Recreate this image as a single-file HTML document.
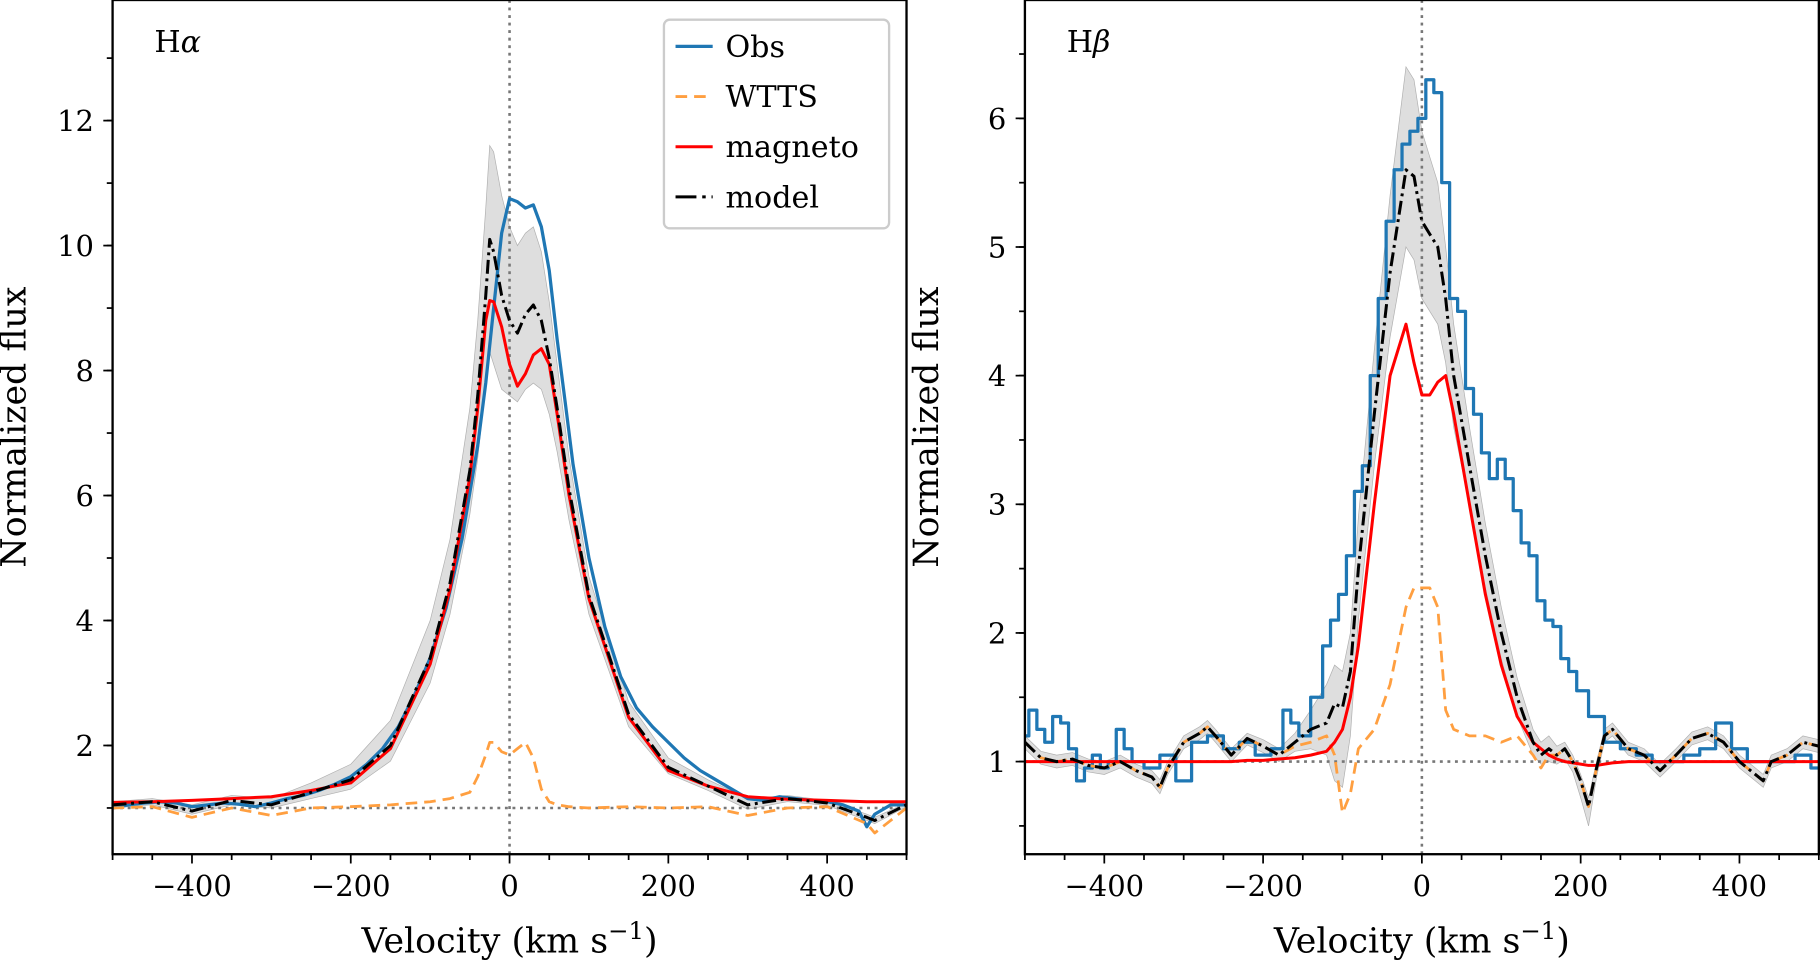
<!DOCTYPE html>
<html><head><meta charset="utf-8"><style>
html,body{margin:0;padding:0;background:#fff;}
svg{display:block;}
text{font-family:"DejaVu Serif","Liberation Serif",serif;fill:#000;}
</style></head><body>
<svg id="chart" width="1820" height="962" viewBox="0 0 1568 830" preserveAspectRatio="none" xmlns="http://www.w3.org/2000/svg"></svg>
<script>
// ---------- Hα data ----------
const haObsV = [-500,-480,-460,-440,-420,-400,-380,-360,-340,-320,-300,-280,-260,-240,-220,-200,-180,-160,-140,-120,-100,-80,-60,-40,-30,-20,-10,0,10,20,30,40,50,60,70,80,100,120,140,160,180,200,220,240,260,280,300,320,340,360,380,400,420,440,450,460,480,500];
const haObs = [1.0,1.05,1.08,1.1,1.08,1.02,1.05,1.08,1.06,1.02,1.08,1.15,1.2,1.28,1.38,1.5,1.7,1.95,2.3,2.8,3.4,4.2,5.3,6.8,7.8,9.0,10.2,10.75,10.7,10.6,10.65,10.3,9.6,8.5,7.5,6.5,5.0,3.9,3.1,2.6,2.3,2.05,1.8,1.6,1.45,1.3,1.15,1.12,1.18,1.15,1.12,1.1,1.05,0.95,0.7,0.9,1.05,1.05];
const haV = [-500,-450,-400,-350,-300,-250,-200,-150,-100,-75,-50,-40,-30,-25,-20,-10,0,10,20,30,40,50,60,75,100,150,200,250,300,350,400,450,460,500];
const haModel = [1.05,1.1,0.95,1.12,1.05,1.25,1.45,2.0,3.4,4.6,6.4,7.6,9.2,10.1,9.9,9.2,8.8,8.6,8.9,9.05,8.8,8.2,7.4,6.1,4.4,2.5,1.65,1.35,1.05,1.15,1.08,0.85,0.8,1.05];
const haMagneto = [1.09,1.1,1.12,1.15,1.18,1.28,1.4,1.95,3.3,4.5,6.3,7.4,8.8,9.12,9.1,8.7,8.1,7.75,7.95,8.25,8.35,8.1,7.3,6.0,4.35,2.45,1.6,1.35,1.18,1.14,1.12,1.1,1.1,1.1];
const haWtts = [1.0,1.02,0.85,1.0,0.88,1.0,1.02,1.05,1.1,1.15,1.25,1.5,1.85,2.05,2.05,1.9,1.85,1.95,2.05,1.8,1.3,1.1,1.05,1.02,1.0,1.02,1.0,1.02,0.88,1.0,1.02,0.75,0.6,1.0];
const haBandHi = [1.1,1.15,1.05,1.2,1.15,1.4,1.7,2.4,4.0,5.3,7.4,8.8,10.6,11.6,11.5,10.8,10.3,10.0,10.2,10.3,9.9,9.1,8.1,6.6,4.7,2.7,1.8,1.45,1.15,1.2,1.12,0.9,0.85,1.08];
const haBandLo = [1.0,1.05,0.9,1.05,1.0,1.15,1.3,1.75,3.0,4.1,5.7,6.6,7.8,8.3,8.1,7.7,7.6,7.5,7.7,7.8,7.7,7.3,6.7,5.6,4.1,2.3,1.55,1.28,0.98,1.1,1.04,0.8,0.75,1.02];
// ---------- Hβ data ----------
const hbObsV = [-500,-490,-480,-470,-460,-450,-440,-430,-420,-410,-400,-390,-380,-370,-360,-340,-320,-300,-280,-260,-240,-220,-200,-180,-170,-160,-150,-130,-120,-110,-100,-90,-80,-70,-60,-50,-40,-30,-20,-10,0,10,20,30,40,50,60,70,80,90,100,110,120,130,140,150,160,170,180,190,200,220,240,260,280,300,320,340,360,380,400,420,440,460,480,500];
const hbObs = [1.2,1.4,1.25,1.15,1.35,1.3,1.1,0.85,0.95,1.05,0.95,1.0,1.25,1.1,1.0,0.95,1.05,0.85,1.15,1.2,1.1,1.15,1.05,1.1,1.4,1.3,1.2,1.5,1.9,2.1,2.3,2.6,3.1,3.3,4.0,4.6,5.2,5.6,5.8,5.9,6.0,6.3,6.2,5.5,4.6,4.5,3.9,3.7,3.4,3.2,3.35,3.2,2.95,2.7,2.6,2.25,2.1,2.05,1.8,1.7,1.55,1.35,1.15,1.1,1.05,1.0,1.0,1.05,1.1,1.3,1.1,1.0,1.0,1.0,1.05,0.95];
const hbV = [-500,-480,-460,-440,-420,-400,-380,-360,-340,-330,-320,-300,-280,-270,-260,-240,-220,-200,-180,-160,-140,-120,-110,-100,-90,-80,-60,-40,-20,-10,0,10,20,30,40,60,80,100,120,140,150,160,170,180,190,200,210,220,230,240,260,280,300,320,340,360,380,400,420,430,440,460,480,500];
const hbModel = [1.15,1.03,1.0,1.02,0.97,0.95,1.0,0.93,0.88,0.8,0.95,1.15,1.22,1.27,1.2,1.05,1.18,1.12,1.05,1.15,1.25,1.3,1.45,1.42,1.7,2.5,3.7,4.8,5.6,5.55,5.2,5.1,5.0,4.6,4.0,3.3,2.6,2.0,1.5,1.15,1.05,1.1,1.05,1.1,1.0,0.85,0.65,0.95,1.2,1.25,1.1,1.05,0.93,1.05,1.18,1.22,1.15,1.0,0.9,0.85,1.0,1.05,1.15,1.12];
const hbWtts = [1.15,1.03,1.0,1.02,0.97,0.95,1.0,0.93,0.88,0.8,0.95,1.15,1.22,1.27,1.2,1.05,1.18,1.12,1.05,1.12,1.15,1.2,1.05,0.6,0.75,1.1,1.25,1.6,2.2,2.35,2.35,2.35,2.2,1.4,1.25,1.2,1.2,1.15,1.2,1.05,0.95,1.05,1.05,1.1,1.0,0.85,0.65,0.95,1.2,1.25,1.1,1.05,0.93,1.05,1.18,1.22,1.15,1.0,0.9,0.85,1.0,1.05,1.15,1.12];
const hbMagneto = [1.0,1.0,1.0,1.0,1.0,1.0,1.0,1.0,1.0,1.0,1.0,1.0,1.0,1.0,1.0,1.0,1.01,1.01,1.02,1.03,1.05,1.08,1.15,1.25,1.5,1.9,3.0,4.0,4.4,4.1,3.85,3.85,3.95,4.0,3.7,3.0,2.3,1.75,1.35,1.15,1.1,1.05,1.02,1.0,0.99,0.98,0.97,0.97,0.98,0.99,1.0,1.0,1.0,1.0,1.0,1.0,1.0,1.0,1.0,1.0,1.0,1.0,1.0,1.0];
const hbBandHi = [1.2,1.08,1.05,1.07,1.02,1.0,1.05,0.98,0.93,0.86,1.0,1.2,1.27,1.32,1.25,1.1,1.22,1.17,1.1,1.22,1.4,1.6,1.75,1.7,2.0,2.9,4.2,5.4,6.4,6.3,5.9,5.7,5.5,5.0,4.4,3.6,2.85,2.2,1.65,1.25,1.15,1.2,1.12,1.15,1.05,0.9,0.72,1.0,1.25,1.3,1.15,1.1,0.98,1.1,1.23,1.27,1.2,1.05,0.95,0.9,1.05,1.1,1.2,1.17];
const hbBandLo = [1.1,0.98,0.95,0.97,0.92,0.9,0.95,0.88,0.83,0.75,0.9,1.1,1.17,1.22,1.15,1.0,1.13,1.07,1.0,1.08,1.1,1.05,0.85,0.8,1.2,2.1,3.3,4.3,5.0,4.9,4.6,4.5,4.4,4.1,3.6,3.0,2.35,1.8,1.35,1.05,0.98,1.0,0.98,1.02,0.92,0.72,0.5,0.88,1.15,1.2,1.05,1.0,0.88,1.0,1.13,1.17,1.1,0.95,0.85,0.8,0.95,1.0,1.1,1.07];
// tick labels
const xTicks = [-400,-200,0,200,400];
const haYTicks = [2,4,6,8,10,12];
const hbYTicks = [1,2,3,4,5,6];

const NS = "http://www.w3.org/2000/svg";
const svg = document.getElementById('chart');
function mk(tag, attrs, parent){ const e=document.createElementNS(NS,tag); for(const k in attrs) e.setAttribute(k,attrs[k]); (parent||svg).appendChild(e); return e; }

function panel(cfg){
  const g = mk('g',{});
  
  
  const X = v => cfg.x0 + (v - (-500)) / 1000 * (cfg.x1 - cfg.x0);
  const Y = f => cfg.y1 - (f - cfg.ymin) / (cfg.ymax - cfg.ymin) * (cfg.y1 - cfg.y0);
  const cp = 'clip-' + cfg.name;
  const defs = mk('defs',{},g);
  const c = mk('clipPath',{id:cp},defs);
  mk('rect',{x:cfg.x0,y:cfg.y0,width:cfg.x1-cfg.x0,height:cfg.y1-cfg.y0},c);
  const pg = mk('g',{'clip-path':'url(#'+cp+')'},g);
  let d='';
  cfg.v.forEach((v,i)=>{ d += (i?'L':'M')+X(v).toFixed(1)+','+Y(cfg.hi[i]).toFixed(1); });
  for(let i=cfg.v.length-1;i>=0;i--) d += 'L'+X(cfg.v[i]).toFixed(1)+','+Y(cfg.lo[i]).toFixed(1);
  const band = mk('path',{d:d+'Z',fill:'#c8c8c8','fill-opacity':'0.6',stroke:'#b0b0b0','stroke-width':'0.6'},pg);
  
  
  const h = mk('line',{x1:cfg.x0,x2:cfg.x1,y1:Y(1),y2:Y(1),stroke:'#777','stroke-width':2.2,'stroke-dasharray':'2.5,4'},pg);
  
  
  const vl = mk('line',{x1:X(0),x2:X(0),y1:cfg.y0,y2:cfg.y1,stroke:'#777','stroke-width':2.2,'stroke-dasharray':'2.5,4'},pg);
  
  
  // obs
  let od='';
  if(cfg.obsStep){
    cfg.obsV.forEach((v,i)=>{
      const xl = i===0 ? X(v) : X((cfg.obsV[i-1]+v)/2);
      const xr = i===cfg.obsV.length-1 ? X(v) : X((cfg.obsV[i+1]+v)/2);
      od += (i===0?'M':'L')+xl.toFixed(1)+','+Y(cfg.obs[i]).toFixed(1)+'H'+xr.toFixed(1);
    });
  } else {
    cfg.obsV.forEach((v,i)=>{ od += (i?'L':'M')+X(v).toFixed(1)+','+Y(cfg.obs[i]).toFixed(1); });
  }
  const obs = mk('path',{d:od,fill:'none',stroke:'#1f77b4','stroke-width':2.8,'stroke-linejoin':'round'},pg);
  
  
  const line = (arr, st, name) => {
    const p = mk('polyline',Object.assign({points:cfg.v.map((v,i)=>X(v).toFixed(1)+','+Y(arr[i]).toFixed(1)).join(' '),fill:'none','stroke-linejoin':'round'},st),pg);
    
    
  };
  line(cfg.wtts,{stroke:'#ff9f40','stroke-width':2.4,'stroke-dasharray':'10,6'},'wtts-series');
  line(cfg.mag,{stroke:'#ff0000','stroke-width':2.6},'magneto-series');
  line(cfg.model,{stroke:'#000','stroke-width':2.6,'stroke-dasharray':'12,4,2.5,4'},'model-series');
  const fr = mk('rect',{x:cfg.x0,y:cfg.y0,width:cfg.x1-cfg.x0,height:cfg.y1-cfg.y0,fill:'none',stroke:'#000','stroke-width':2},g);
  
  
  for(let v=-500; v<=500; v+=50){
    const major = v%200===0;
    mk('line',{x1:X(v),x2:X(v),y1:cfg.y1,y2:cfg.y1+(major?8:5),stroke:'#000','stroke-width':1.5},g);
  }
  xTicks.forEach(v=>{
    const t = mk('text',{x:X(v),y:cfg.y1+36,'text-anchor':'middle','font-size':25},g);
    t.textContent = v<0 ? '\u2212'+(-v) : String(v);
    
    
  });
  for(let f=cfg.minorStart; f<=cfg.ymax; f+=cfg.minor){
    if(f<cfg.ymin) continue;
    mk('line',{x1:cfg.x0,x2:cfg.x0-5,y1:Y(f),y2:Y(f),stroke:'#000','stroke-width':1.5},g);
  }
  cfg.yTicks.forEach(f=>{
    mk('line',{x1:cfg.x0,x2:cfg.x0-8,y1:Y(f),y2:Y(f),stroke:'#000','stroke-width':1.5},g);
    const t = mk('text',{x:cfg.x0-16,y:Y(f)+9,'text-anchor':'end','font-size':25},g);
    t.textContent = String(f);
    
    
  });
  const xl = mk('text',{x:X(0),y:822,'text-anchor':'middle','font-size':30},g);
  xl.innerHTML = 'Velocity (km s<tspan dy="-12" font-size="21">\u22121</tspan><tspan dy="12">)</tspan>';
  
  
  const yx = cfg.x0-75, yy = (cfg.y0+cfg.y1)/2;
  const yl = mk('text',{x:yx,y:yy,'text-anchor':'middle','font-size':30,transform:'rotate(-90 '+yx+' '+yy+')'},g);
  yl.textContent = 'Normalized flux';
  
  
  const tt = mk('text',{x:cfg.x0+36,y:45,'font-size':26},g);
  tt.innerHTML = 'H<tspan font-style="italic">'+cfg.greek+'</tspan>';
  
  
}

panel({name:'h-alpha-panel',greek:'\u03B1',x0:97,x1:781,y0:0,y1:737,ymin:0.26,ymax:13.93,
  v:haV,model:haModel,mag:haMagneto,wtts:haWtts,hi:haBandHi,lo:haBandLo,obsV:haObsV,obs:haObs,obsStep:false,
  yTicks:haYTicks,minor:1,minorStart:1});
panel({name:'h-beta-panel',greek:'\u03B2',x0:883,x1:1567,y0:0,y1:737,ymin:0.28,ymax:6.92,
  v:hbV,model:hbModel,mag:hbMagneto,wtts:hbWtts,hi:hbBandHi,lo:hbBandLo,obsV:hbObsV,obs:hbObs,obsStep:true,
  yTicks:hbYTicks,minor:0.5,minorStart:0.5});

const lg = mk('g',{});


mk('rect',{x:572,y:17,width:194,height:180,rx:5,fill:'#fff','fill-opacity':0.85,stroke:'#ccc','stroke-width':2},lg);
const legNames = ['Obs','WTTS','magneto','model'];
const legStyles = [
  {stroke:'#1f77b4','stroke-width':2.8},
  {stroke:'#ff9f40','stroke-width':2.4,'stroke-dasharray':'10,6'},
  {stroke:'#ff0000','stroke-width':2.6},
  {stroke:'#000','stroke-width':2.6,'stroke-dasharray':'18,5,3,5'}];
legNames.forEach((n,i)=>{
  const y = 40 + i*43.3;
  const e = mk('g',{},lg);
  
  
  mk('line',Object.assign({x1:582,x2:614,y1:y,y2:y},legStyles[i]),e);
  const t = mk('text',{x:625,y:y+9,'font-size':26},e);
  t.textContent = n;
});
</script>
</body></html>
